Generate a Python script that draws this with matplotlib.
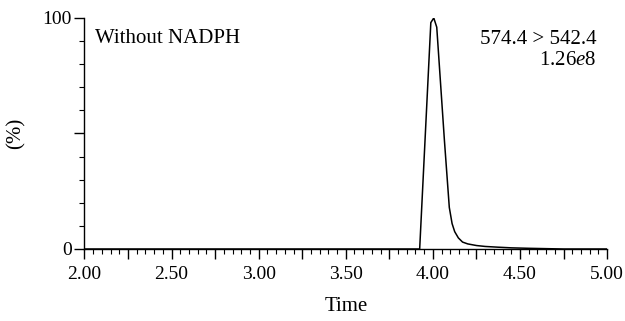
import matplotlib
matplotlib.use("Agg")
from matplotlib import pyplot as plt
from matplotlib.ticker import MultipleLocator, FixedLocator, FuncFormatter

# Chromatogram trace (time in min, relative intensity in %)
time = [2.00, 3.90, 3.924, 3.988, 4.005, 4.022, 4.066, 4.094, 4.110, 4.125,
        4.146, 4.170, 4.200, 4.250, 4.300, 4.370, 4.450, 4.550, 4.650, 4.750, 5.00]
intensity = [0, 0, 0, 98, 100, 96, 47, 18, 11, 7.5,
             4.8, 3.0, 2.2, 1.5, 1.1, 0.8, 0.5, 0.3, 0.15, 0, 0]

y_ticks = [0, 100]
sample_label = "Without NADPH"
transition = "574.4 > 542.4"
scale_label = r"1.26$\mathit{e}$8"

plt.rcParams['font.family'] = ['Liberation Serif', 'DejaVu Serif']
plt.rcParams['mathtext.fontset'] = 'custom'
plt.rcParams['mathtext.rm'] = 'Liberation Serif'
plt.rcParams['mathtext.it'] = 'Liberation Serif:italic'

fig = plt.figure(figsize=(6.25, 3.21), dpi=100)
ax = fig.add_axes([0.135, 0.2243, 0.8365, 0.7197])

ax.plot(time, intensity, color='black', lw=1.1)

ax.set_xlim(2.0, 5.0)
ax.set_ylim(0, 100)

ax.spines['top'].set_visible(False)
ax.spines['right'].set_visible(False)
ax.spines['left'].set_linewidth(1.0)
ax.spines['bottom'].set_linewidth(1.0)

# x: taller ticks every 0.25 (labelled every 0.5), small ticks every 0.05
ax.xaxis.set_major_locator(MultipleLocator(0.25))
ax.xaxis.set_major_formatter(FuncFormatter(
    lambda v, p: f"{v:.2f}" if abs(v * 2 - round(v * 2)) < 1e-6 else ""))
ax.xaxis.set_minor_locator(MultipleLocator(0.05))
ax.tick_params(axis='x', which='major', length=7, width=1.0, labelsize=14, pad=5)
ax.tick_params(axis='x', which='minor', length=3.5, width=0.8)

ax.yaxis.set_major_locator(FixedLocator([0, 50, 100]))
ax.yaxis.set_major_formatter(FuncFormatter(
    lambda v, p: f"{int(v)}" if int(v) in y_ticks else ""))
ax.yaxis.set_minor_locator(MultipleLocator(10))
ax.tick_params(axis='y', which='major', length=7, width=1.0, labelsize=14, pad=2)
ax.tick_params(axis='y', which='minor', length=3.5, width=0.8)

ax.set_xlabel("Time", fontsize=15, labelpad=10)
ax.set_ylabel("(%)", fontsize=15, labelpad=12)

ax.text(0.02, 0.91, sample_label, transform=ax.transAxes, fontsize=15,
        ha='left', va='center')
ax.text(0.98, 0.905, transition, transform=ax.transAxes, fontsize=15,
        ha='right', va='center')
ax.text(0.98, 0.815, scale_label, transform=ax.transAxes, fontsize=15,
        ha='right', va='center')

plt.savefig("out.png", dpi=100)
